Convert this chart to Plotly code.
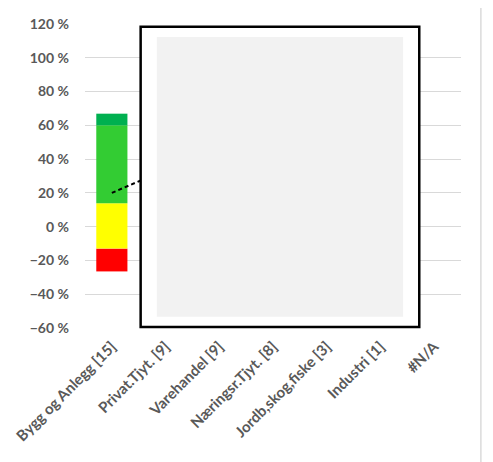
import plotly.graph_objects as go

categories = ["Bygg og Anlegg [15]", "Privat.Tjyt. [9]", "Varehandel [9]",
              "Næringsr.Tjyt. [8]", "Jordb,skog,fiske [3]", "Industri [1]", "#N/A"]

# band limits per category (only first one visible)
red_low    = [-26.5]
yellow_low = [-13.0]
green_low  = [13.8]
dgreen_low = [60.0]
dgreen_top = [66.9]

trend_x = categories[:2]
trend_y = [20.0, 33.7]

TICK_FONT = dict(family="Lato, Carlito, Liberation Sans, sans-serif", size=14,
                 color="#595959", weight="bold")
XTICK_FONT = dict(TICK_FONT, size=15)

fig = go.Figure()
bands = [
    (red_low, yellow_low, "#ff0000"),
    (yellow_low, green_low, "#ffff00"),
    (green_low, dgreen_low, "#33cc33"),
    (dgreen_low, dgreen_top, "#00b050"),
]
for lo, hi, col in bands:
    fig.add_trace(go.Bar(
        x=categories[:len(lo)],
        base=lo,
        y=[h - l for l, h in zip(lo, hi)],
        marker_color=col,
        marker_line_width=0,
        showlegend=False,
    ))

fig.add_trace(go.Scatter(
    x=trend_x, y=trend_y, mode="lines",
    line=dict(color="black", width=2, dash="4px,3px"),
    showlegend=False,
))

# page body has an 8px margin, so the figure sits 8px in from the window corner
fig.update_layout(
    width=493, height=462,
    margin=dict(l=77, r=40, t=16, b=142),
    paper_bgcolor="white", plot_bgcolor="white",
    barmode="overlay", bargap=0.42,
    font=TICK_FONT,
    xaxis=dict(
        categoryorder="array", categoryarray=categories,
        range=[-0.5, 6.5], tickangle=-45,
        tickfont=XTICK_FONT, automargin=False,
        showgrid=False, showline=False, ticks="",
        ticklabelstandoff=6,
    ),
    yaxis=dict(
        range=[-60, 120], dtick=20, ticksuffix=" %",
        tickfont=TICK_FONT, automargin=False,
        gridcolor="#d9d9d9", gridwidth=1,
        zeroline=False, showline=False, ticks="",
        ticklabelstandoff=15,
    ),
    shapes=[
        dict(type="rect", xref="paper", yref="paper",
             x0=0.148, x1=0.889, y0=0.003, y1=0.991,
             fillcolor="white", line=dict(color="black", width=2.5)),
        dict(type="rect", xref="paper", yref="paper",
             x0=0.191, x1=0.846, y0=0.037, y1=0.957,
             fillcolor="#f2f2f2", line=dict(width=0)),
        dict(type="line", xref="paper", yref="paper",
             x0=1.053, x1=1.053, y0=-0.45, y1=1.07,
             line=dict(color="#c8c8c8", width=1)),
    ],
)

fig.write_html("out.html")
